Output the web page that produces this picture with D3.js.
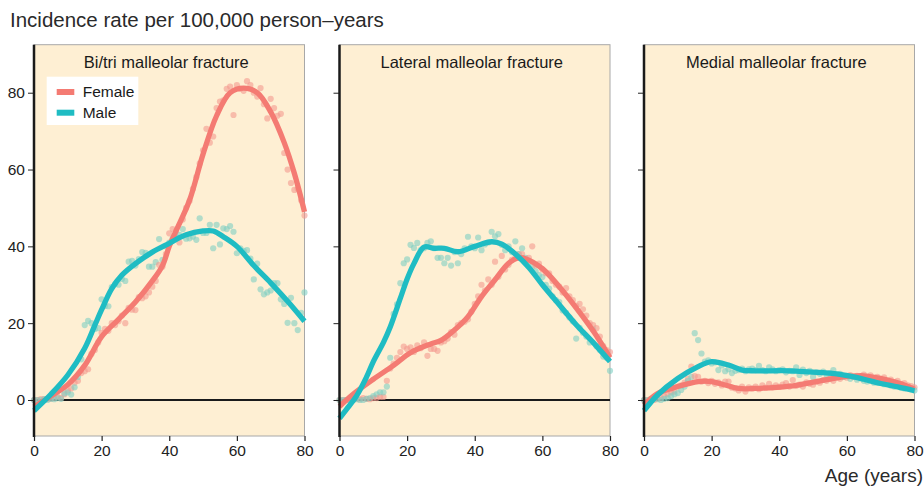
<!DOCTYPE html>
<html><head><meta charset="utf-8">
<script src="https://cdn.jsdelivr.net/npm/d3@7/dist/d3.min.js"></script>
<style>body{margin:0;background:#fff;} svg{display:block;font-family:"Liberation Sans",Arial,Helvetica,sans-serif;}</style>
</head><body><svg id="c" width="924" height="486"></svg>
<script>
const chartTitle = "Incidence rate per 100,000 person\u2013years";
const xAxisTitle = "Age (years)";
const panelTitles = ["Bi/tri malleolar fracture", "Lateral malleolar fracture", "Medial malleolar fracture"];
const seriesNames = ["Female", "Male"];
const yTicks = [0, 20, 40, 60, 80];
const xTicks = [0, 20, 40, 60, 80];
const ages = d3.range(0, 81);

// Observed points (one per year of age, 0..80)
const biFemalePts = [0,0,0.2,0.2,0.3,0.3,0.5,0.8,0.5,1.5,2.5,3,4.5,5,7,7.5,8,12,13,15,17.5,18.5,18,20,19.5,20.5,22,20,24,23.5,23.4,26.8,26.5,27,28,29.5,31,35.2,34.7,38,43.4,44.5,44,41,47,50,51.8,55,58,61.6,65,70.6,67,68.6,76,77.7,78,81,81.6,74.2,82,81,80.5,83,82,80,79,81.2,77,73.3,78.4,76,74,74.5,64.3,60,56.5,54.7,55,52,48];
const biMalePts = [0,0,0,0.2,0,0.3,0.2,0.5,0.3,1.7,2,1.4,3.3,6,10.6,19.5,20.6,20,18.5,18.7,26.2,24.5,24.4,29.4,30.2,30,31.5,31,36,36.2,35,36.7,38.5,38.3,34.7,34.7,35.9,41.9,36.5,40,41,42,42.5,43,44.5,42,42.1,42.5,41.7,47.3,43.5,43.5,45.6,39.5,45.6,40.5,44.7,44.5,45.3,43.8,38.2,39.5,38.8,39,36.8,31.4,35.5,28.8,27.5,28,28.5,30.4,30.4,26.2,25,20.1,26.6,20,18.2,22.7,28];
const latFemalePts = [0,0,0,0.2,0,0.3,0.2,0.5,0.3,0.2,0.5,0.5,0.8,0.8,5,8.2,9.5,11,12.5,13.9,13.3,13.7,12.5,14.2,13.5,15,11.5,13.3,13.3,12.8,15,15.3,16,17.7,17,19.5,20,20.4,21,23,25,27,30,28.5,31.4,30,36,32.1,37.5,34,35.2,36.5,37,38,38,36,37,40,35,35.5,34,33,33,31,30,29.5,28,29.1,27,26,24.5,25,23.6,22,20,19.5,18.7,16.5,14,13,12.5];
const latMalePts = [0,0,0,0,0,0.2,0,0,0.3,0.5,1,1.5,2,2,3.5,11,22.4,24.9,30.4,35.6,36.6,40.4,39.6,40.9,39,39.5,40.9,41.3,39.5,37,37,35.6,37,35,38.5,35.6,38,39.5,42.5,40,39.5,42.3,39,40.5,41,43.8,42.6,43.2,40.4,39,40,38.5,41.3,38,39.5,37,36,34.7,33.5,32.5,32,30,29,27,26,25.5,23.3,22.7,21.5,20.5,16,18.8,17.5,16.5,15,18.3,14,13,11.3,11,7.6];
const medFemalePts = [0,0,0.2,0,0.3,0.5,1,1.5,2,2.2,3.5,3.8,4.5,5.5,8.7,6.2,6,4.8,5,4.4,5,4.2,4.6,3.8,4.8,4.8,3.2,3,2.5,3.5,2.2,3.3,3,3.5,2.8,3.8,3.2,4.2,3.3,3.8,3.4,4,4.4,3.5,5.2,3.7,4,3.5,4.6,4.2,4,4.8,4.5,5.2,5,5.5,5,6,5.5,6.2,5.8,6.5,6,6.3,5.8,6.6,6,6.4,5.6,6,5.5,5.9,5,5.3,4.6,5,4.2,4.4,3.8,3.6,3.3];
const medMalePts = [0,0,0.2,0.5,0.2,0,0.3,0.5,1,1.5,1.8,2.6,3.5,5,6,17.4,15.6,12.1,10,10.3,9.5,9.8,7.8,9,7.5,8,7,7.6,7.8,8.2,7.5,8,8.2,7.8,8.9,7.8,7.5,8.5,8,7.5,7.8,8,7.2,7.6,7.5,8.5,6.5,7.9,7,7.6,6,7.2,6.8,7.4,6.5,7,7.8,6.2,6.8,6,6.3,5.5,6,5.3,5.8,5,4.8,5.2,4.5,4.6,4.8,4.1,4.5,3.8,3.5,4,3.2,3,3.3,2.8,2.5];

// Smoothed curves
const biFemaleCurveAge = [0,5,10,15,20,25,30,35,38,40,42,46,50,54,58,62,66,70,74,77,80];
const biFemaleCurveVal = [-1.8,1,4,9,16.5,21,25.5,31,35,40,44,52,64,74,80,81.2,80,75,67,59,49];
const biMaleCurveAge = [0,5,10,15,18,20,23,26,30,35,40,45,50,53,56,60,65,70,75,80];
const biMaleCurveVal = [-2.8,1.5,6.5,13.5,19.5,23.5,29,32.5,35.5,38.5,40.8,43,44,44,42.5,40,35,30.5,25.7,20.5];
const latFemaleCurveAge = [0,4,10,16,21,27,30,34,38,42,46,50,53,55,60,65,70,75,80];
const latFemaleCurveVal = [-1.7,1.5,5.4,9,12.3,14.6,15.5,18.2,21.7,26.9,31.3,35.6,37,36.8,34.2,29.5,24,18,11];
const latMaleCurveAge = [0,2,5,8,10,13,15,18,20,22,25,28,31,35,40,45,48,52,56,60,65,70,75,80];
const latMaleCurveVal = [-4.8,-2.5,1,6,10,15,19,26.5,31.5,35.5,39.8,39.5,39.5,38.6,40,41.2,40.6,38,34.5,30,24.8,19.6,15,10];
const medFemaleCurveAge = [0,4,10,16,20,24,28,33,43,51,58,65,72,76,80];
const medFemaleCurveVal = [-1.3,1.7,3.5,4.8,4.8,3.9,3,3,3.6,4.8,5.9,6.3,5.2,4.2,2.8];
const medMaleCurveAge = [0,4,10,16,20,25,29,33,43,53,57,61,65,70,75,80];
const medMaleCurveVal = [-2.8,1.3,5.6,8.7,10,9.1,7.8,7.6,7.6,7.1,6.8,6.2,5.4,4.3,3.4,2.4];

const panels = [
  {title: panelTitles[0], fPts: biFemalePts, mPts: biMalePts, fA: biFemaleCurveAge, fV: biFemaleCurveVal, mA: biMaleCurveAge, mV: biMaleCurveVal},
  {title: panelTitles[1], fPts: latFemalePts, mPts: latMalePts, fA: latFemaleCurveAge, fV: latFemaleCurveVal, mA: latMaleCurveAge, mV: latMaleCurveVal},
  {title: panelTitles[2], fPts: medFemalePts, mPts: medMalePts, fA: medFemaleCurveAge, fV: medFemaleCurveVal, mA: medMaleCurveAge, mV: medMaleCurveVal}
];

const femaleLine = "#f47b73", maleLine = "#1fbcc3";
const femalePt = "#f49a90", malePt = "#7fcfc3";
const panelBg = "#feefd3";
const txt = "#222";

const svg = d3.select("#c");
const plotTop = 44.7, plotBottom = 436;
const panelLefts = [34, 339.5, 644];
const panelW = 270.5;
const y = d3.scaleLinear().domain([-9.375, 92.5]).range([plotBottom, plotTop]);

svg.append("text").attr("x", 10).attr("y", 27).attr("font-size", 20.5).attr("fill", "#2a2a2a").text(chartTitle);

panels.forEach((p, i) => {
  const x0 = panelLefts[i];
  const x = d3.scaleLinear().domain([0, 80]).range([x0, x0 + panelW]);
  const g = svg.append("g");
  g.append("rect").attr("x", x0).attr("y", plotTop).attr("width", panelW).attr("height", plotBottom - plotTop)
    .attr("fill", panelBg).attr("stroke", "#a8a8a8").attr("stroke-width", 1);
  g.append("line").attr("x1", x0).attr("x2", x0 + panelW).attr("y1", y(0)).attr("y2", y(0))
    .attr("stroke", "#1a1a1a").attr("stroke-width", 1.8);
  const pts = [];
  ages.forEach((a, k) => { pts.push({a, v: p.fPts[k], c: femalePt}); pts.push({a, v: p.mPts[k], c: malePt}); });
  g.selectAll("circle.pt").data(pts).join("circle").attr("class", "pt")
    .attr("cx", d => x(d.a)).attr("cy", d => y(d.v)).attr("r", 3.1)
    .attr("fill", d => d.c).attr("fill-opacity", 0.6);
  const line = d3.line().x(d => x(d[0])).y(d => y(d[1])).curve(d3.curveCatmullRom.alpha(0.5));
  g.append("path").attr("d", line(p.fA.map((a, k) => [a, p.fV[k]])))
    .attr("fill", "none").attr("stroke", femaleLine).attr("stroke-width", 5.3);
  g.append("path").attr("d", line(p.mA.map((a, k) => [a, p.mV[k]])))
    .attr("fill", "none").attr("stroke", maleLine).attr("stroke-width", 5.3);

  const ya = g.append("g").attr("transform", `translate(${x0},0)`)
    .call(d3.axisLeft(y).tickValues(yTicks).tickSize(6).tickFormat(i === 0 ? d3.format("d") : () => ""));
  ya.select(".domain").remove();
  ya.selectAll(".tick line").attr("stroke", "#222").attr("stroke-width", 1);
  ya.selectAll(".tick text").attr("font-size", 15.5).attr("fill", txt).attr("font-family", "Liberation Sans, Arial, sans-serif").attr("x", -9);
  g.append("line").attr("x1", x0).attr("x2", x0).attr("y1", plotTop).attr("y2", plotBottom + 1)
    .attr("stroke", "#1a1a1a").attr("stroke-width", 2.5);
  const xa = g.append("g").attr("transform", `translate(0,${plotBottom})`)
    .call(d3.axisBottom(x).tickValues(xTicks).tickSize(5).tickFormat(d3.format("d")));
  xa.select(".domain").remove();
  xa.selectAll(".tick line").attr("stroke", "#222").attr("stroke-width", 1.2);
  xa.selectAll(".tick text").attr("font-size", 15.5).attr("fill", txt).attr("font-family", "Liberation Sans, Arial, sans-serif").attr("y", 9);

  g.append("text").attr("x", x0 + panelW / 2 - 3).attr("y", 68).attr("text-anchor", "middle")
    .attr("font-size", 16.5).attr("fill", "#1a1a1a").text(p.title);
});

const lg = svg.append("g");
lg.append("rect").attr("x", 46.7).attr("y", 76.7).attr("width", 91.6).attr("height", 48.3).attr("fill", "#fff");
[[femaleLine, seriesNames[0], 92], [maleLine, seriesNames[1], 112.7]].forEach(([c, t, yy]) => {
  lg.append("rect").attr("x", 56.7).attr("y", yy - 3).attr("width", 17.6).attr("height", 6).attr("fill", c);
  lg.append("text").attr("x", 82.7).attr("y", yy + 5.3).attr("font-size", 15.5).attr("fill", "#1a1a1a").text(t);
});

svg.append("text").attr("x", 923).attr("y", 482).attr("text-anchor", "end").attr("font-size", 19).attr("fill", "#2a2a2a").text(xAxisTitle);
</script></body></html>
